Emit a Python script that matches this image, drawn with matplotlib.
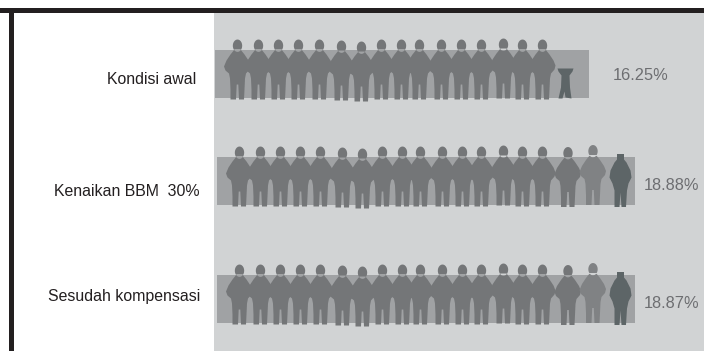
import numpy as np
import matplotlib
matplotlib.use("Agg")
import matplotlib.pyplot as plt
from matplotlib.path import Path

plt.rcParams['font.family'] = ['Liberation Sans', 'DejaVu Sans']

categories = ['Kondisi awal', 'Kenaikan BBM  30%', 'Sesudah kompensasi']
values = [16.25, 18.88, 18.87]
value_labels = ['16.25%', '18.88%', '18.87%']

# bars start left of the zero of this scale
bar_start = [-5.12, -5.0, -5.0]

# figure columns along the bars
crowd_x = [237, 258, 278, 298, 319, 341, 361, 381, 401, 419, 441, 461, 481, 503, 522, 542]
crowd_dy = [0, 0, 0, 0, 0, 1, 2, 0, 0, 0, 0, 0, 0, -1, 0, 0]
extra_x = [568, 593]
extra_color = ['#747678', '#808284']
last_x = [565, 620, 620]

W, H = 704, 351
PX_PER_PCT = 17.5
PX_ZERO = 304.6


def to_value(px):
    return (np.asarray(px, dtype=float) - PX_ZERO) / PX_PER_PCT


def ellipse_pts(cx, cy, rx, ry, n=24):
    t = np.linspace(0, 2 * np.pi, n)
    return np.column_stack([cx + rx * np.cos(t), cy + ry * np.sin(t)])


def closed_path(parts):
    verts, codes = [], []
    for p in parts:
        p = np.asarray(p, dtype=float)
        verts.extend(p.tolist())
        verts.append(p[0].tolist())
        codes += [Path.MOVETO] + [Path.LINETO] * (len(p) - 1) + [Path.CLOSEPOLY]
    return Path(verts, codes)


# silhouettes, units are pixels around the marker centre, y up
BODY = [(3, 20), (7, 15), (11, 9), (13, 4), (12, 0), (8.5, -4), (7.5, -9), (7, -20), (6.5, -30),
        (1.5, -30), (0.8, -15), (-0.8, -15), (-1.5, -30), (-7, -30), (-7, -20), (-7.5, -9),
        (-8.5, -4), (-12, -1), (-13.5, 3), (-11, 9), (-7, 15), (-3, 20)]
person = closed_path([ellipse_pts(0, 23.8, 4.7, 6.2), BODY])

stump = closed_path([[(-8, 15), (8, 15), (7, 12), (4, 8), (4.5, -4), (6, -15), (0, -14),
                      (-1, -8), (-3, -15), (-7, -15), (-4.5, -4), (-4, 8), (-7, 12)]])

dark = closed_path([[(-3.5, 26.5), (3.5, 26.5), (3.5, 21), (6, 18), (10, 10), (11, 3), (8, -3),
                     (6.5, -10), (5.5, -26.5), (1, -26.5), (0, -12), (-1, -26.5), (-6, -26.5),
                     (-6, -10), (-8, -3), (-11, 3), (-10, 10), (-6, 18), (-3.5, 21)]])

fig = plt.figure(figsize=(W / 100, H / 100), dpi=100, facecolor='white')
ax = fig.add_axes([0, 0, 1, 1])
ax.set_xlim(to_value(0), to_value(W))
ax.set_ylim(H, 0)
ax.axis('off')

row_y = [74, 181, 299]
row_people = [69, 176, 294]
row_last = [82.5, 179.5, 297.5]
text_y = [79, 192, 296]
label_x = [613, 644, 644]
label_y = [76, 186, 303]
label_right = [196, 200, 200]

# grey panel and the thick black frame
ax.axvspan(to_value(214), to_value(W), ymin=0, ymax=1 - 13 / H, color='#d1d3d4', lw=0, zorder=1)
ax.axhspan(8, 13, color='#231f20', lw=0, zorder=2)
ax.axvspan(to_value(9), to_value(14), ymin=0, ymax=1 - 8 / H, color='#231f20', lw=0, zorder=2)

ax.barh(row_y, np.array(values) - np.array(bar_start), left=bar_start, height=48,
        color='#a0a2a4', lw=0, zorder=3)

SIZE = (60 * 0.72) ** 2
for i in range(3):
    # first row is shifted a little against the other two at the left end
    shift = np.linspace(0 if i == 0 else 2, 0, len(crowd_x))
    xs = to_value(np.array(crowd_x) + shift)
    ax.scatter(xs, row_people[i] + np.array(crowd_dy), marker=person, s=SIZE,
               color='#747678', lw=0, zorder=4)
    if i == 0:
        ax.scatter(to_value(last_x[i]), row_last[i], marker=stump, s=(30 * 0.72) ** 2,
                   color='#5d6567', lw=0, zorder=5)
    else:
        ax.scatter(to_value(extra_x), [row_people[i] + 1, row_people[i] - 1], marker=person, s=SIZE,
                   color=extra_color, lw=0, zorder=4)
        ax.scatter(to_value(last_x[i]), row_last[i], marker=dark, s=(53 * 0.72) ** 2,
                   color='#5d6567', lw=0, zorder=5)
    ax.text(to_value(label_right[i]), text_y[i], categories[i], ha='right', va='center',
            fontsize=11.4, color='#231f20', zorder=6)
    ax.text(to_value(label_x[i]), label_y[i], value_labels[i], ha='left', va='center',
            fontsize=11.8, color='#6d6e71', zorder=6)

fig.savefig('out.png', dpi=100)
plt.close(fig)
